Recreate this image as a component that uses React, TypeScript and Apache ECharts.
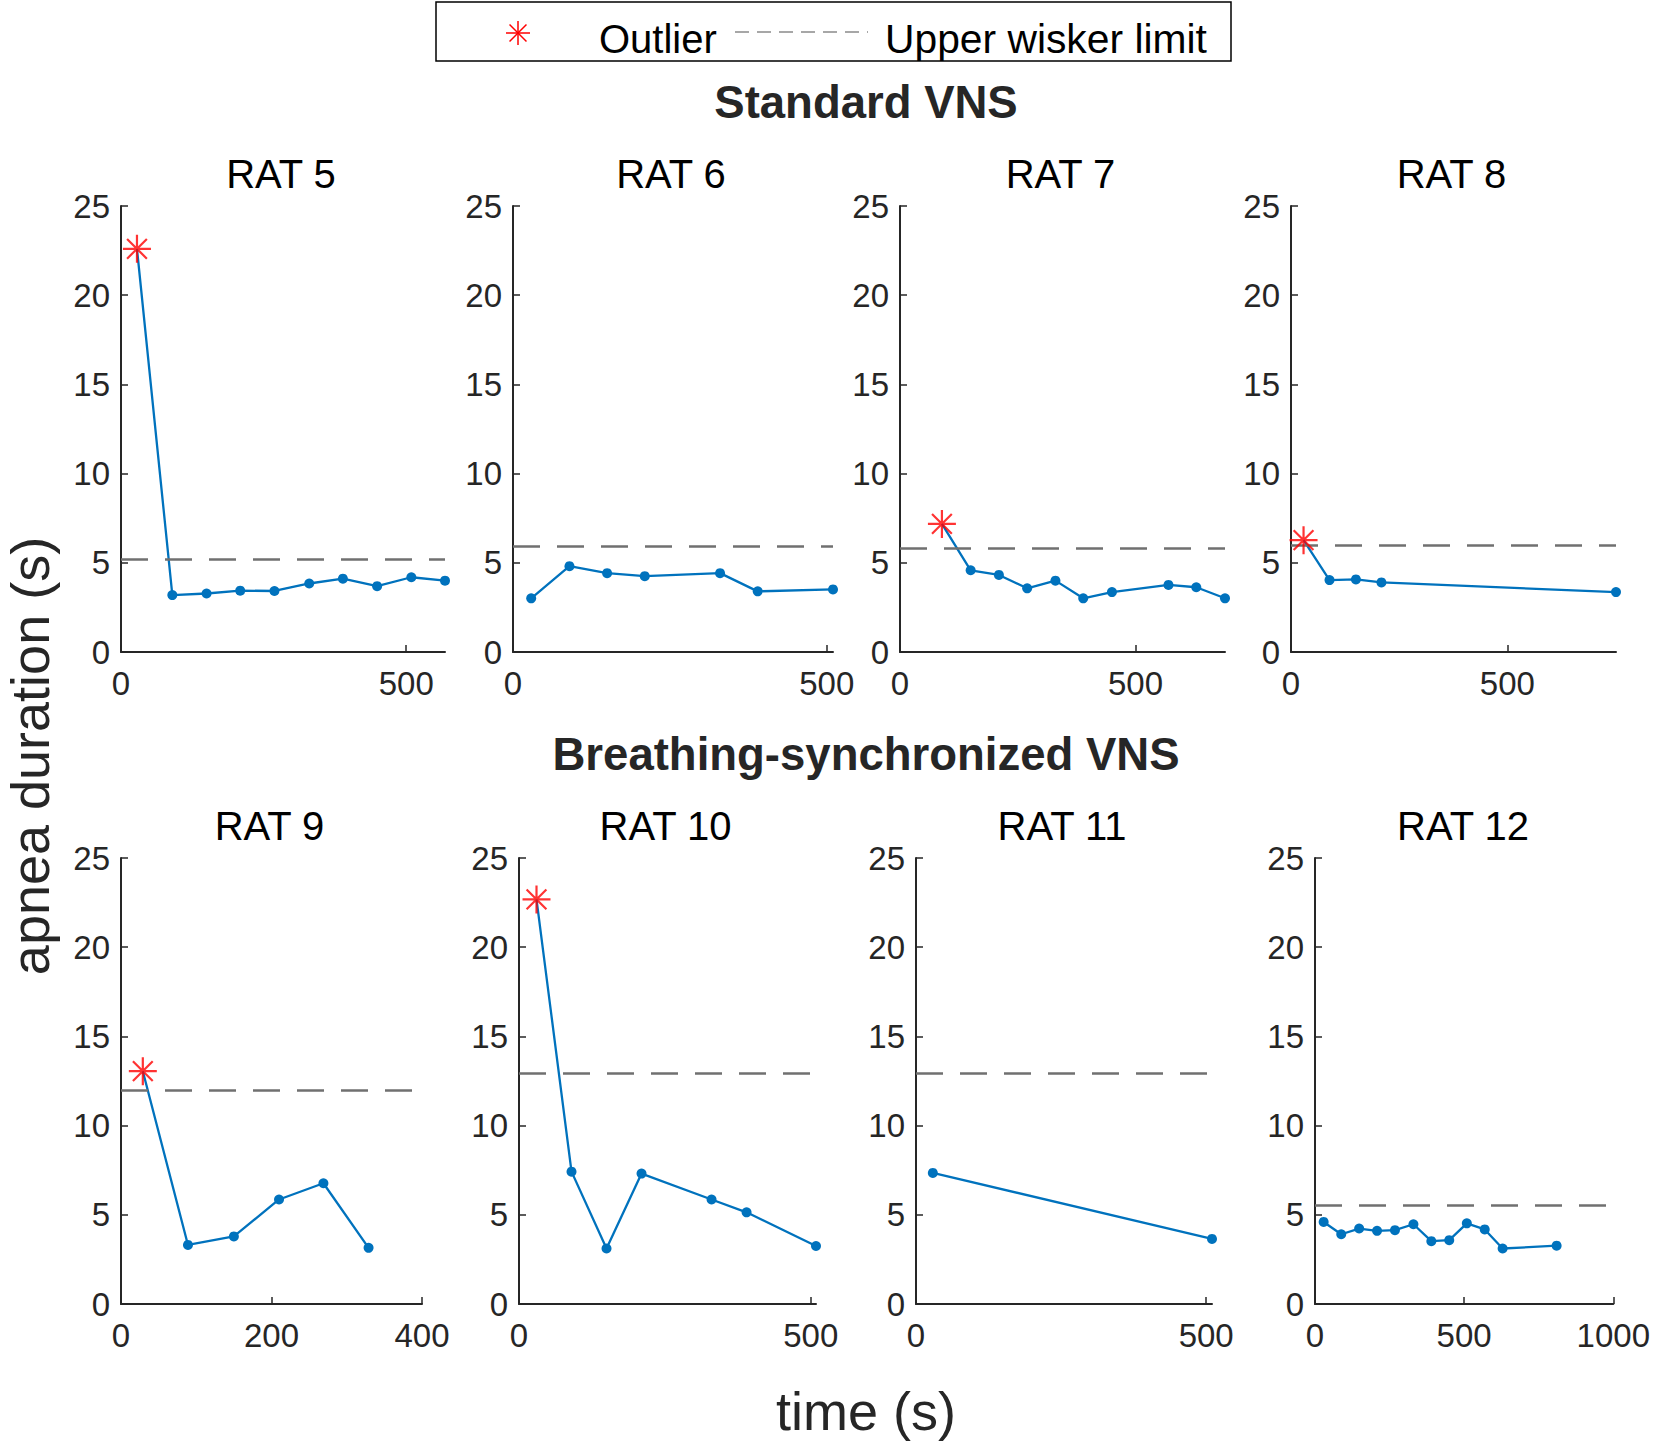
import React, { useEffect, useRef } from "react";
import * as echarts from "echarts";

// ---------- data ----------
const titles = ["RAT 5", "RAT 6", "RAT 7", "RAT 8", "RAT 9", "RAT 10", "RAT 11", "RAT 12"];

const rat5Time = [28, 90, 150, 209, 269, 330, 389, 449, 509, 568];
const rat5Apnea = [22.6, 3.19, 3.28, 3.44, 3.42, 3.84, 4.11, 3.69, 4.19, 4.0];
const rat6Time = [29, 90, 150, 210, 330, 390, 510];
const rat6Apnea = [3.01, 4.81, 4.42, 4.25, 4.42, 3.4, 3.51];
const rat7Time = [89, 150, 210, 270, 330, 389, 450, 570, 629, 690];
const rat7Apnea = [7.18, 4.58, 4.32, 3.57, 4.0, 3.01, 3.36, 3.76, 3.63, 3.01];
const rat8Time = [29, 89, 150, 209, 751];
const rat8Apnea = [6.27, 4.03, 4.07, 3.9, 3.36];
const rat9Time = [29, 89, 150, 210, 269, 329];
const rat9Apnea = [13.05, 3.31, 3.79, 5.86, 6.77, 3.15];
const rat10Time = [30, 90, 150, 210, 330, 390, 509];
const rat10Apnea = [22.68, 7.42, 3.11, 7.31, 5.86, 5.14, 3.25];
const rat11Time = [29, 510];
const rat11Apnea = [7.35, 3.65];
const rat12Time = [29, 88, 148, 208, 268, 330, 390, 450, 509, 569, 629, 810];
const rat12Apnea = [4.6, 3.91, 4.23, 4.1, 4.14, 4.47, 3.52, 3.58, 4.52, 4.18, 3.11, 3.27];

// index of the outlier point in each rat (first sample), -1 = none
const outlierIndex = [0, -1, 0, 0, 0, 0, -1, -1];
// upper whisker limit per rat
const upperLimits = [5.19, 5.93, 5.79, 5.97, 11.99, 12.92, 12.92, 5.55];
// x axis extent per rat
const xMaxes = [568, 510, 690, 751, 400, 509, 510, 1000];
// x tick labels per rat
const xTickLabels = [
  [0, 500], [0, 500], [0, 500], [0, 500],
  [0, 200, 400], [0, 500], [0, 500], [0, 500, 1000],
];
const yTickLabels = [0, 5, 10, 15, 20, 25];

const times = [rat5Time, rat6Time, rat7Time, rat8Time, rat9Time, rat10Time, rat11Time, rat12Time];
const apneas = [rat5Apnea, rat6Apnea, rat7Apnea, rat8Apnea, rat9Apnea, rat10Apnea, rat11Apnea, rat12Apnea];

// ---------- layout ----------
const grids = [
  { left: 121, top: 206, width: 324, height: 446 },
  { left: 513, top: 206, width: 320, height: 446 },
  { left: 900, top: 206, width: 325, height: 446 },
  { left: 1291, top: 206, width: 325, height: 446 },
  { left: 121, top: 858, width: 301, height: 446 },
  { left: 519, top: 858, width: 297, height: 446 },
  { left: 916, top: 858, width: 296, height: 446 },
  { left: 1315, top: 858, width: 300, height: 446 },
];

const FONT = '"Liberation Sans", Arial, Helvetica, sans-serif';
const AX = "#262626";
const BLUE = "#0072BD";
const STAR =
  "path://M0,-10L0,10M-10,0L10,0M-7.07,-7.07L7.07,7.07M-7.07,7.07L7.07,-7.07";

function buildOption() {
  const xAxis = grids.map((_, i) => ({
    type: "value",
    gridIndex: i,
    min: 0,
    max: xMaxes[i],
    splitLine: { show: false },
    axisLine: { show: true, onZero: false, lineStyle: { color: AX, width: 2 } },
    axisTick: {
      show: true,
      inside: true,
      length: 7,
      customValues: xTickLabels[i],
      lineStyle: { color: AX, width: 1.5 },
    },
    axisLabel: {
      customValues: xTickLabels[i],
      formatter: (v: number) => String(v),
      fontSize: 33,
      color: AX,
      fontFamily: FONT,
      margin: 15,
    },
  }));
  const yAxis = grids.map((_, i) => ({
    type: "value",
    gridIndex: i,
    min: 0,
    max: 25,
    interval: 5,
    splitLine: { show: false },
    axisLine: { show: true, onZero: false, lineStyle: { color: AX, width: 2 } },
    axisTick: { show: true, inside: true, length: 7, lineStyle: { color: AX, width: 1.5 } },
    axisLabel: {
      customValues: yTickLabels,
      formatter: (v: number) => String(v),
      fontSize: 33,
      color: AX,
      fontFamily: FONT,
      margin: 11,
    },
  }));

  const series: any[] = [];
  grids.forEach((_, i) => {
    const t = times[i];
    const a = apneas[i];
    series.push({
      type: "line",
      name: titles[i],
      xAxisIndex: i,
      yAxisIndex: i,
      data: t.map((x, j) =>
        j === outlierIndex[i] ? { value: [x, a[j]], symbol: "none" } : { value: [x, a[j]] }
      ),
      symbol: "circle",
      symbolSize: 10,
      showSymbol: true,
      itemStyle: { color: BLUE },
      lineStyle: { color: BLUE, width: 2.3 },
      z: 3,
      markLine: {
        silent: true,
        symbol: ["none", "none"],
        label: { show: false },
        emphasis: { disabled: true },
        lineStyle: { color: "#707070", width: 2.5, type: [27, 17] },
        data: [{ yAxis: upperLimits[i] }],
      },
    });
    if (outlierIndex[i] >= 0) {
      const j = outlierIndex[i];
      series.push({
        type: "scatter",
        name: "Outlier",
        xAxisIndex: i,
        yAxisIndex: i,
        data: [[t[j], a[j]]],
        symbol: STAR,
        symbolSize: 28,
        itemStyle: { color: "rgba(0,0,0,0)", borderColor: "#ff0000", borderWidth: 2.2 },
        z: 5,
      });
    }
  });

  const txt = (text: string, x: number, y: number, size: number, opts: any = {}) => ({
    type: "text",
    x,
    y,
    rotation: opts.rotation || 0,
    style: {
      text,
      fontSize: size,
      fontFamily: FONT,
      fontWeight: opts.bold ? "bold" : "normal",
      fill: opts.fill || "#000",
      align: opts.align || "center",
      textAlign: opts.align || "center",
      verticalAlign: "middle",
      textVerticalAlign: "middle",
    },
  });

  const graphic: any[] = [];
  // panel titles
  grids.forEach((g, i) => {
    graphic.push(txt(titles[i], g.left + g.width / 2 - 2, i < 4 ? 174 : 826, 40, { fill: "#000" }));
  });
  graphic.push(txt("Standard VNS", 866, 102, 45.5, { bold: true, fill: AX }));
  graphic.push(txt("Breathing-synchronized VNS", 866, 754, 45.5, { bold: true, fill: AX }));
  graphic.push(txt("time (s)", 866, 1411, 54, { fill: AX }));
  graphic.push(txt("apnea duration (s)", 30, 756, 54, { fill: AX, rotation: Math.PI / 2 }));

  // legend
  const sx = 518;
  const sy = 33;
  const r = 12;
  const d = r * 0.707;
  graphic.push({
    type: "rect",
    shape: { x: 436, y: 2, width: 795, height: 59 },
    style: { fill: "#fff", stroke: "#000", lineWidth: 1.5 },
    z: 10,
  });
  [
    [sx, sy - r, sx, sy + r],
    [sx - r, sy, sx + r, sy],
    [sx - d, sy - d, sx + d, sy + d],
    [sx - d, sy + d, sx + d, sy - d],
  ].forEach(([x1, y1, x2, y2]) =>
    graphic.push({
      type: "line",
      shape: { x1, y1, x2, y2 },
      style: { stroke: "#ff0000", lineWidth: 1.5 },
      z: 11,
    })
  );
  graphic.push({ ...txt("Outlier", 599, 39, 40, { align: "left" }), z: 11 });
  graphic.push({
    type: "line",
    shape: { x1: 735, y1: 32, x2: 868, y2: 32 },
    style: { stroke: "#8a8a8a", lineWidth: 1.5, lineDash: [14, 8] },
    z: 11,
  });
  graphic.push({ ...txt("Upper wisker limit", 885, 39, 40.8, { align: "left" }), z: 11 });

  return {
    animation: false,
    backgroundColor: "#fff",
    grid: grids.map((g) => ({ ...g, containLabel: false })),
    xAxis,
    yAxis,
    series,
    graphic,
  };
}

export default function App() {
  const ref = useRef<HTMLDivElement>(null);
  useEffect(() => {
    if (!ref.current) return;
    const chart = echarts.init(ref.current, null, { renderer: "svg" });
    chart.setOption(buildOption() as any);
    return () => chart.dispose();
  }, []);
  return (
    <div
      ref={ref}
      style={{ position: "absolute", left: 0, top: 0, width: 1653, height: 1445, background: "#fff" }}
    />
  );
}
